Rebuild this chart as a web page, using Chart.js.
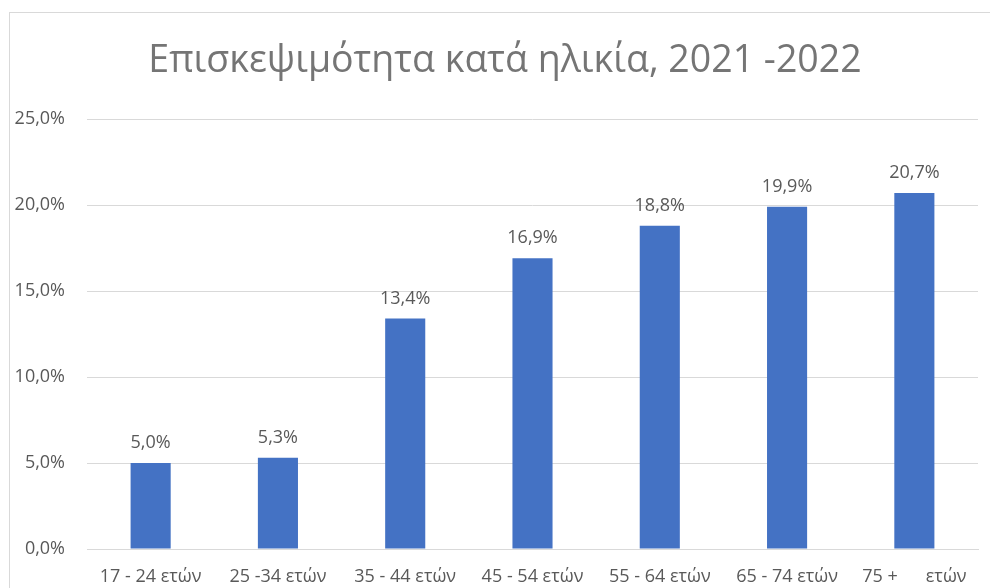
<!DOCTYPE html>
<html>
<head>
<meta charset="utf-8">
<script src="https://cdn.jsdelivr.net/npm/chart.js@4"></script>
<style>
    body { margin: 0; background: #fff; overflow: hidden; }
    #frame {
        position: absolute; left: 9px; top: 12px; width: 990px; height: 600px;
        border: 1px solid #d9d9d9; box-sizing: border-box;
    }
    #wrap { position: absolute; left: 10px; top: 13px; width: 980px; height: 575px; }
</style>
</head>
<body>
<div id="frame"></div>
<div id="wrap"><canvas id="ageChart"></canvas></div>
<script>
const ageGroups = ['17 - 24 ετών', '25 -34 ετών', '35 - 44 ετών', '45 - 54 ετών', '55 - 64 ετών', '65 - 74 ετών', '75 +      ετών'];
const visitShare = [5.0, 5.3, 13.4, 16.9, 18.8, 19.9, 20.7];
const yTicks = [0, 5, 10, 15, 20, 25];

const fontFamily = '"Open Sans", "Noto Sans", sans-serif';
const textGrey = '#595959';

function pct(v) {
    return v.toFixed(1).replace('.', ',') + '%';
}

// ετικέτες τιμών πάνω από τις μπάρες
const valueLabels = {
    id: 'valueLabels',
    afterDatasetsDraw(chart) {
        const ctx = chart.ctx;
        const meta = chart.getDatasetMeta(0);
        ctx.save();
        ctx.font = '18px ' + fontFamily;
        ctx.fillStyle = textGrey;
        ctx.textAlign = 'center';
        ctx.textBaseline = 'bottom';
        meta.data.forEach((bar, i) => {
            ctx.fillText(pct(visitShare[i]), bar.x, bar.y - 11);
        });
        ctx.restore();
    }
};

// ο τίτλος κεντράρεται λίγο δεξιότερα (όπως στο πλαίσιο του Excel)
const titleShift = {
    id: 'titleShift',
    afterLayout(chart) {
        if (chart.titleBlock) {
            chart.titleBlock.left += 11;
            chart.titleBlock.right += 11;
        }
    }
};

new Chart(document.getElementById('ageChart'), {
    type: 'bar',
    data: {
        labels: ageGroups,
        datasets: [{
            data: visitShare,
            backgroundColor: '#4472C4',
            borderWidth: 0,
            barPercentage: 0.5,
            categoryPercentage: 0.63
        }]
    },
    options: {
        responsive: true,
        maintainAspectRatio: false,
        animation: false,
        layout: { padding: { left: 0, right: 12, top: 20, bottom: 0 } },
        plugins: {
            legend: { display: false },
            tooltip: { enabled: false },
            title: {
                display: true,
                text: 'Επισκεψιμότητα κατά ηλικία, 2021 -2022',
                color: '#757575',
                font: { family: fontFamily, size: 37.5, weight: 'normal' },
                padding: { top: 6, bottom: 35 }
            }
        },
        scales: {
            x: {
                grid: { display: false, drawTicks: false },
                border: { color: '#d9d9d9' },
                afterFit(axis) {
                    axis.height = 39;
                },
                ticks: {
                    color: textGrey,
                    font: { family: fontFamily, size: 18 },
                    maxRotation: 0,
                    autoSkip: false,
                    padding: 17
                }
            },
            y: {
                min: 0,
                max: 25,
                border: { display: false },
                grid: { color: '#d9d9d9', drawTicks: false },
                afterBuildTicks(axis) {
                    axis.ticks = yTicks.map(v => ({ value: v }));
                },
                afterFit(axis) {
                    axis.width = 77;
                },
                ticks: {
                    color: textGrey,
                    font: { family: fontFamily, size: 18 },
                    padding: 22,
                    callback: v => pct(v)
                }
            }
        }
    },
    plugins: [valueLabels, titleShift]
});
</script>
</body>
</html>
